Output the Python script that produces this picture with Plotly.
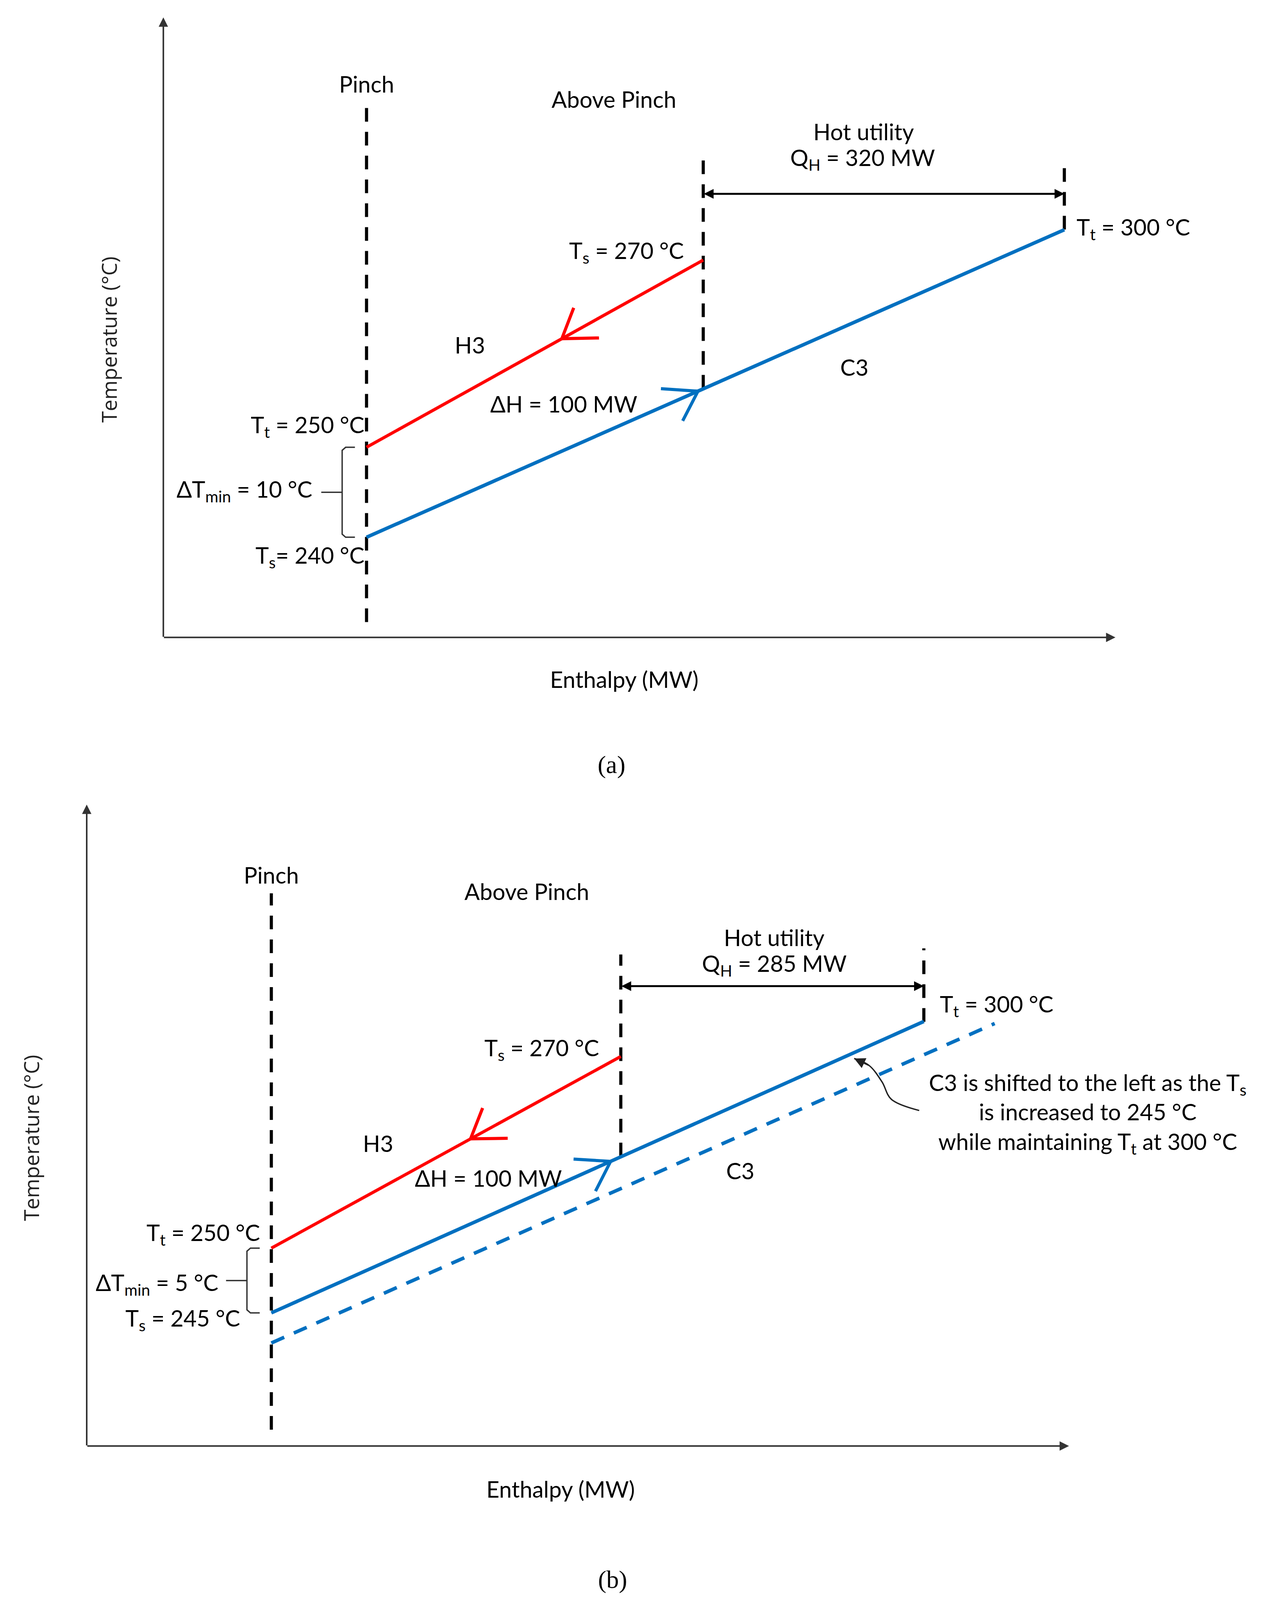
import numpy as np
import plotly.graph_objects as go

# Schematic units: x = enthalpy position from the axis origin,
# y = temperature position above the enthalpy axis (the diagram is not to scale).

# panel (a)
A_AXIS_X_END = 820
A_AXIS_Y_END = 608
A_PINCH_X = 175
A_PINCH_Y = [15, 526]
A_HOT_END_X = 465
A_HOT_END_Y = [244, 469]
A_UTIL_END_X = 776
A_UTIL_END_Y = [400, 469]
A_UTIL_ARROW_Y = 435
A_H3_X = [465, 175]
A_H3_Y = [370.0, 186.4]
A_C3_X = [175, 776]
A_C3_Y = [98.2, 399.8]
A_H3_ARROW_AT = 0.42
A_C3_ARROW_AT = 0.475

# panel (b)
B_AXIS_X_END = 846
B_AXIS_Y_END = 629
B_PINCH_X = 159
B_PINCH_Y = [16, 542]
B_HOT_END_X = 460
B_HOT_END_Y = [284, 482]
B_UTIL_END_X = 721
B_UTIL_END_Y = [416, 488]
B_UTIL_ARROW_Y = 451
B_H3_X = [460, 159]
B_H3_Y = [382.0, 194.0]
B_C3_X = [159, 721]
B_C3_Y = [130.5, 416.3]
B_C3_OLD_X = [159, 782]
B_C3_OLD_Y = [101.0, 414.3]
B_H3_ARROW_AT = 0.43
B_C3_ARROW_AT = 0.52
B_NOTE_CURVE_X = [717, 693, 685, 674, 661]
B_NOTE_CURVE_Y = [329, 340, 357, 373, 380]

RED = "#FF0000"
BLUE = "#0070C0"
FONT = "Lato, Carlito, sans-serif"
FS = 58


def chevron(xs, ys, t, arm=32, angles=(39, -31)):
    tx = xs[0] + t * (xs[1] - xs[0])
    ty = ys[0] + t * (ys[1] - ys[0])
    back = np.arctan2(ys[0] - ys[1], xs[0] - xs[1])
    px = []
    py = []
    for i, a in enumerate(angles):
        ang = back + np.radians(a)
        px.append(tx + arm * np.cos(ang))
        py.append(ty + arm * np.sin(ang))
        if i == 0:
            px.append(tx)
            py.append(ty)
    return px, py


def bracket(x_pinch, y_top, y_bot):
    xv = x_pinch - 21
    ym = (y_top + y_bot) / 2
    bx = [x_pinch - 10, xv + 3, xv, xv, xv + 3, x_pinch - 10, None, xv - 18, xv]
    by = [y_top, y_top, y_top - 3, y_bot + 3, y_bot, y_bot, None, ym, ym]
    return bx, by


def line(fig, xs, ys, color, width, xa, ya, dash=None, shape="linear"):
    fig.add_trace(
        go.Scatter(
            x=xs, y=ys, mode="lines", xaxis=xa, yaxis=ya, cliponaxis=False,
            line=dict(color=color, width=width, dash=dash, shape=shape),
            hoverinfo="skip",
        )
    )


def text(fig, s, x, y, xa, ya, anchor="center", size=FS, family=FONT, angle=0, color="black"):
    fig.add_annotation(
        text=s, x=x, y=y, xref=xa, yref=ya, showarrow=False, xanchor=anchor,
        yanchor="middle", textangle=angle, font=dict(family=family, size=size, color=color),
    )


def arrow(fig, x0, y0, x1, y1, xa, ya, width, both=False, color="#333333", size=1.2):
    fig.add_annotation(
        x=x1, y=y1, ax=x0, ay=y0, xref=xa, yref=ya, axref=xa, ayref=ya, text="",
        font=dict(family=FONT, size=FS),
        showarrow=True, arrowhead=2, arrowsize=size, arrowwidth=width, arrowcolor=color,
        arrowside="end+start" if both else "end", startarrowhead=2, startarrowsize=size,
        standoff=0, startstandoff=0,
    )


def panel(fig, xa, ya, d):
    ax_ref, ay_ref = xa.replace("axis", ""), ya.replace("axis", "")
    arrow(fig, 0, 0, 0, d["y_end"], ax_ref, ay_ref, 4)
    arrow(fig, 0, 0, d["x_end"], 0, ax_ref, ay_ref, 4)
    black_dash = "35px,26px"
    line(fig, [d["pinch_x"]] * 2, d["pinch_y"], "black", 8, ax_ref, ay_ref, black_dash)
    line(fig, [d["hot_x"]] * 2, d["hot_y"], "black", 8, ax_ref, ay_ref, black_dash)
    line(fig, [d["util_x"]] * 2, d["util_y"], "black", 8, ax_ref, ay_ref, black_dash)
    arrow(fig, d["hot_x"], d["arrow_y"], d["util_x"], d["arrow_y"], ax_ref, ay_ref, 5,
          both=True, color="black", size=1.0)
    if "c3_old_x" in d:
        line(fig, d["c3_old_x"], d["c3_old_y"], BLUE, 9, ax_ref, ay_ref, "36px,27px")
    line(fig, d["h3_x"], d["h3_y"], RED, 8, ax_ref, ay_ref)
    line(fig, d["c3_x"], d["c3_y"], BLUE, 9, ax_ref, ay_ref)
    cx, cy = chevron(d["h3_x"], d["h3_y"], d["h3_at"])
    line(fig, cx, cy, RED, 8, ax_ref, ay_ref)
    cx, cy = chevron(d["c3_x"], d["c3_y"], d["c3_at"])
    line(fig, cx, cy, BLUE, 8, ax_ref, ay_ref)
    bx, by = bracket(d["pinch_x"], d["h3_y"][1], d["c3_y"][0])
    line(fig, bx, by, "#333333", 3.5, ax_ref, ay_ref)
    for s, x, y, anc in d["labels"]:
        text(fig, s, x, y, ax_ref, ay_ref, anchor=anc)
    text(fig, "Temperature (°C)", d["ytitle"][0], d["ytitle"][1], ax_ref, ay_ref,
         size=53, family="Open Sans, sans-serif", angle=-90, color="#222222")
    text(fig, d["tag"][0], d["tag"][1], d["tag"][2], ax_ref, ay_ref, size=64,
         family="Liberation Serif, Times New Roman, serif")


def main():
    fig = go.Figure()
    a = dict(
        x_end=A_AXIS_X_END, y_end=A_AXIS_Y_END,
        pinch_x=A_PINCH_X, pinch_y=A_PINCH_Y,
        hot_x=A_HOT_END_X, hot_y=A_HOT_END_Y,
        util_x=A_UTIL_END_X, util_y=A_UTIL_END_Y, arrow_y=A_UTIL_ARROW_Y,
        h3_x=A_H3_X, h3_y=A_H3_Y, c3_x=A_C3_X, c3_y=A_C3_Y,
        h3_at=A_H3_ARROW_AT, c3_at=A_C3_ARROW_AT,
        labels=[
            ("Pinch", 175, 543, "center"),
            ("Above Pinch", 388, 528, "center"),
            ("Hot utility", 603, 496, "center"),
            ("Q<sub>H</sub> = 320 MW", 602, 469, "center"),
            ("T<sub>t</sub> = 300 °C", 786, 401, "left"),
            ("T<sub>s</sub> = 270 °C", 449, 378, "right"),
            ("H3", 264, 287, "center"),
            ("ΔH = 100 MW", 345, 229, "center"),
            ("C3", 595, 265, "center"),
            ("T<sub>t</sub> = 250 °C", 174, 207, "right"),
            ("ΔT<sub>min</sub> = 10 °C", 129, 144, "right"),
            ("T<sub>s</sub>= 240 °C", 174, 79, "right"),
            ("Enthalpy (MW)", 397, -41, "center"),
        ],
        ytitle=(-47, 292), tag=("(a)", 386, -125),
    )
    b = dict(
        x_end=B_AXIS_X_END, y_end=B_AXIS_Y_END,
        pinch_x=B_PINCH_X, pinch_y=B_PINCH_Y,
        hot_x=B_HOT_END_X, hot_y=B_HOT_END_Y,
        util_x=B_UTIL_END_X, util_y=B_UTIL_END_Y, arrow_y=B_UTIL_ARROW_Y,
        h3_x=B_H3_X, h3_y=B_H3_Y, c3_x=B_C3_X, c3_y=B_C3_Y,
        c3_old_x=B_C3_OLD_X, c3_old_y=B_C3_OLD_Y,
        h3_at=B_H3_ARROW_AT, c3_at=B_C3_ARROW_AT,
        labels=[
            ("Pinch", 159, 560, "center"),
            ("Above Pinch", 379, 544, "center"),
            ("Hot utility", 592, 499, "center"),
            ("Q<sub>H</sub> = 285 MW", 592, 472, "center"),
            ("T<sub>t</sub> = 300 °C", 734, 432, "left"),
            ("T<sub>s</sub> = 270 °C", 442, 389, "right"),
            ("H3", 251, 297, "center"),
            ("ΔH = 100 MW", 346, 263, "center"),
            ("C3", 563, 270, "center"),
            ("T<sub>t</sub> = 250 °C", 150, 208, "right"),
            ("ΔT<sub>min</sub> = 5 °C", 114, 159, "right"),
            ("T<sub>s</sub> = 245 °C", 133, 124, "right"),
            ("C3 is shifted to the left as the T<sub>s</sub><br>is increased to 245 °C<br>"
             "while maintaining T<sub>t</sub> at 300 °C", 862, 326, "center"),
            ("Enthalpy (MW)", 408, -42, "center"),
        ],
        ytitle=(-48, 302), tag=("(b)", 453, -131),
    )
    panel(fig, "xaxis", "yaxis", a)
    panel(fig, "xaxis2", "yaxis2", b)
    line(fig, B_NOTE_CURVE_X, B_NOTE_CURVE_Y, "#222222", 3.5, "x2", "y2", shape="spline")
    arrow(fig, B_NOTE_CURVE_X[-2], B_NOTE_CURVE_Y[-2], B_NOTE_CURVE_X[-1], B_NOTE_CURVE_Y[-1],
          "x2", "y2", 3.5, color="#222222", size=1.6)

    hidden = dict(visible=False, fixedrange=True)
    fig.update_layout(
        autosize=True, margin=dict(l=0, r=0, t=0, b=0),
        paper_bgcolor="white", plot_bgcolor="white", showlegend=False,
        font=dict(family=FONT, size=FS),
        xaxis=dict(domain=[0, 1], range=[-138, 947], **hidden),
        yaxis=dict(domain=[0.5, 1], range=[-159.5, 622], **hidden),
        xaxis2=dict(domain=[0, 1], range=[-72, 1013], anchor="y2", **hidden),
        yaxis2=dict(domain=[0, 0.5], range=[-148, 633.5], anchor="x2", **hidden),
    )
    fig.write_html("out.html")


if __name__ == "__main__":
    main()
